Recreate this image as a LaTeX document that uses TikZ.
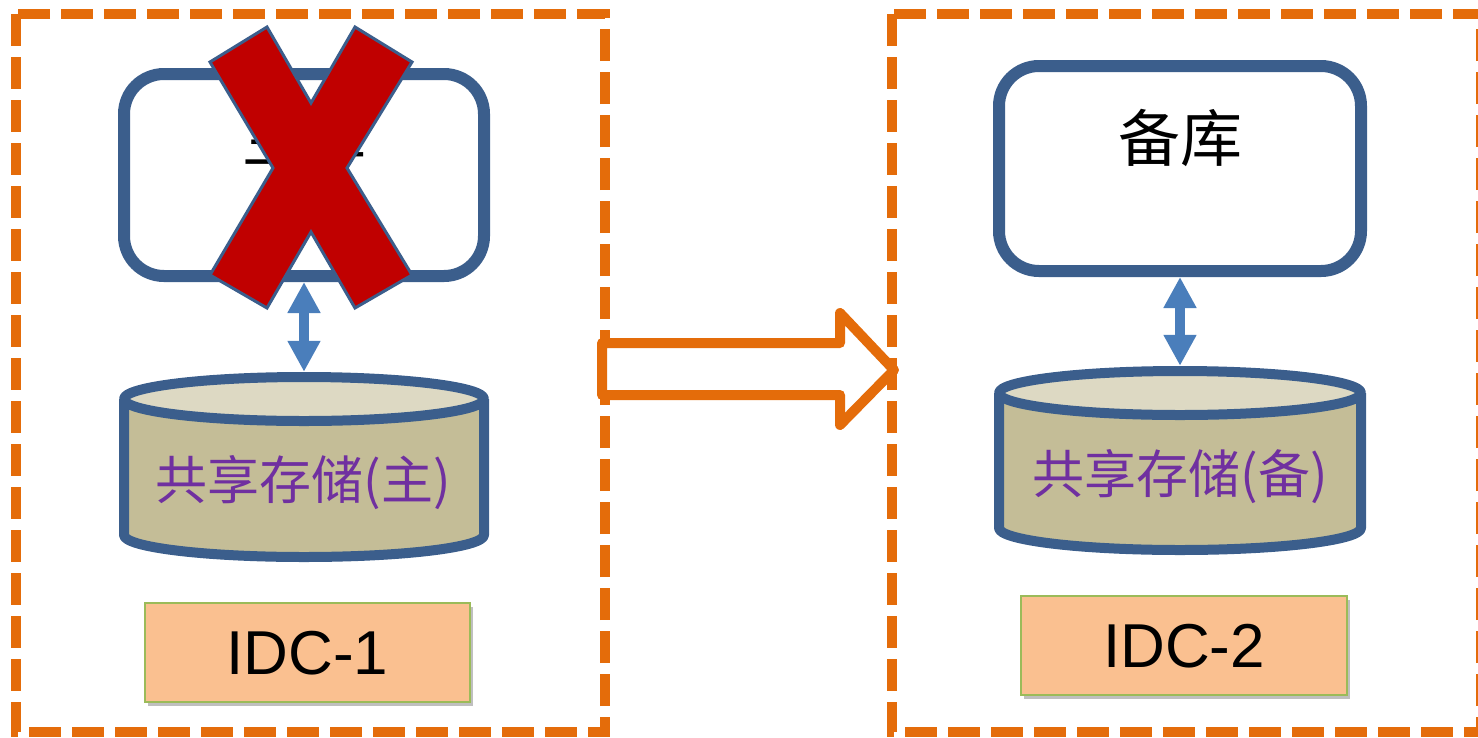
\documentclass[tikz,border=0pt]{standalone}
\usepackage{fontspec}
\setmainfont{Liberation Sans}
\newfontfamily\cjk{Noto Sans CJK SC}
\usetikzlibrary{arrows.meta,shadows}
\definecolor{orng}{HTML}{E46C0A}
\definecolor{dbblue}{HTML}{3B5E8C}
\definecolor{arblue}{HTML}{4A7EBB}
\definecolor{xred}{HTML}{C00000}
\definecolor{cyltop}{HTML}{DDD9C3}
\definecolor{cylbody}{HTML}{C4BD97}
\definecolor{purp}{HTML}{7030A0}
\definecolor{idcfill}{HTML}{FAC090}
\definecolor{idcline}{HTML}{9BBB59}
\begin{document}
\begin{tikzpicture}[x=1pt,y=-1pt,
  zone/.style={draw=orng, line width=10pt, dash pattern=on 32pt off 11pt},
  dbbox/.style={draw=dbblue, line width=12pt, rounded corners=40pt, fill=white, inner sep=0pt},
  dblabel/.style={font=\cjk\fontsize{62}{72}\selectfont, inner sep=0pt, text height=51pt, text depth=4pt},
  cylline/.style={draw=dbblue, line width=10pt, line join=round},
  stshape/.style={inner sep=0pt, minimum width=370pt},
  stlabel/.style={font=\cjk\fontsize{52}{60}\selectfont, text=purp, inner sep=0pt, text height=43pt, text depth=3pt},
  idc/.style={draw=idcline, line width=1.5pt, fill=idcfill, inner sep=0pt,
    font=\fontsize{62}{74}\selectfont, text height=44.5pt, text depth=0pt,
    drop shadow={shadow xshift=3pt, shadow yshift=-4pt, fill=black, opacity=0.25}},
  link/.style={draw=arblue, line width=10pt, {Triangle[width=31pt,length=31pt]}-{Triangle[width=31pt,length=31pt]}},
  bigarrow/.style={draw=orng, line width=10pt, fill=white, line join=round},
  cross/.style={fill=xred, draw=dbblue, line width=3pt, line join=miter}
]
\useasboundingbox (0,0) rectangle (1478,737);

% data-centre zones
\draw[zone] (16,14) rectangle (605,732);
\draw[zone] (892,14) rectangle (1481,732);

% failover arrow
\draw[bigarrow] (602,343) -- (840,343) -- (840,313) -- (894,370) -- (840,425) -- (840,395) -- (602,395) -- cycle;

% left: primary
\node[dbbox, minimum width=360pt, minimum height=202pt] (m1) at (304,175) {};
\node[dblabel] (m1t) at (304,138) {主库};

\fill[cylbody] (124,399) -- (124,535) arc[start angle=180, end angle=360, x radius=180pt, y radius=22pt] -- (484,399) -- cycle;
\draw[cylline, fill=cyltop] (304,399) ellipse[x radius=180pt, y radius=22pt];
\draw[cylline] (124,399) -- (124,535) arc[start angle=180, end angle=360, x radius=180pt, y radius=22pt] -- (484,399);
\node[stshape, minimum height=190pt] (s1) at (304,467) {};
\node[stlabel] (s1t) at (303,479) {共享存储(主)};

\draw[link] (m1.south) -- (s1.north);

\node[idc, minimum width=325pt, minimum height=99pt] (idc1) at (307.5,652.5) {IDC-1};

% the cross over the primary
\draw[cross] (210,62) -- (267,27) -- (311,103) -- (355,27) -- (412,62) -- (347,168) -- (412,275) -- (355,308) -- (311,232) -- (267,308) -- (210,275) -- (273,168) -- cycle;

% right: standby
\node[dbbox, minimum width=362pt, minimum height=205pt] (m2) at (1180,168.5) {};
\node[dblabel] (m2t) at (1180,138) {备库};

\fill[cylbody] (999,393) -- (999,528) arc[start angle=180, end angle=360, x radius=181pt, y radius=22pt] -- (1361,393) -- cycle;
\draw[cylline, fill=cyltop] (1180,393) ellipse[x radius=181pt, y radius=22pt];
\draw[cylline] (999,393) -- (999,528) arc[start angle=180, end angle=360, x radius=181pt, y radius=22pt] -- (1361,393);
\node[stshape, minimum height=189pt] (s2) at (1180,460.5) {};
\node[stlabel] (s2t) at (1180,473) {共享存储(备)};

\draw[link] (m2.south) -- (s2.north);

\node[idc, minimum width=326pt, minimum height=99pt] (idc2) at (1184,645.5) {IDC-2};
\end{tikzpicture}
\end{document}
